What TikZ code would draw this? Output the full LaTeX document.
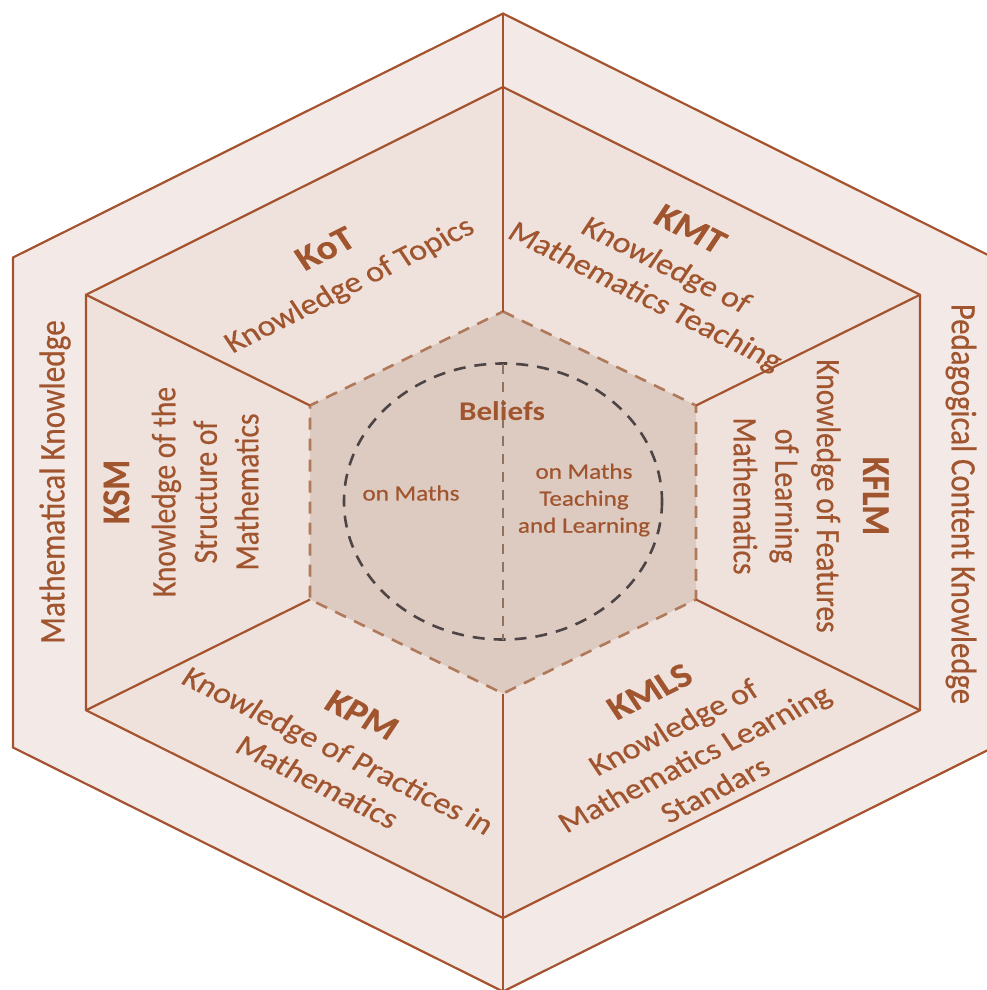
\documentclass[tikz,border=0pt]{standalone}
\usepackage{fontspec}
\setmainfont{Carlito}
\newfontfamily\heavyfam{Carlito}[FakeBold=0.5]
\definecolor{ringC}{HTML}{F3E9E6}
\definecolor{midC}{HTML}{EFE2DD}
\definecolor{centC}{HTML}{DDCAC1}
\definecolor{lineC}{HTML}{A5532E}
\definecolor{textC}{HTML}{A0552F}
\definecolor{dashC}{HTML}{B07A5A}
\definecolor{circC}{HTML}{4D4545}
\definecolor{vdashC}{HTML}{8E7262}
\newcommand{\bodyf}{\heavyfam\fontsize{29.5}{36}\selectfont}
\newcommand{\outerf}{\heavyfam\fontsize{31.3}{36}\selectfont}
\newcommand{\pckf}{\heavyfam\fontsize{30.8}{36}\selectfont}
\newcommand{\titlef}{\fontsize{34}{40}\selectfont\bfseries}
\newcommand{\innerf}{\heavyfam\fontsize{21.8}{27}\selectfont}
\begin{document}
\begin{tikzpicture}[x=1pt,y=-1pt,
  solidline/.style={draw=lineC,line width=2.2pt},
  hexdash/.style={draw=dashC,line width=2.6pt,dash pattern=on 12pt off 9pt},
  circdash/.style={draw=circC,line width=2.6pt,dash pattern=on 12pt off 9pt},
  vdash/.style={draw=vdashC,line width=2pt,dash pattern=on 10pt off 8pt},
  lab/.style={text=textC,inner sep=0pt,align=center,font=\bodyf},
  innerlab/.style={text=textC,inner sep=0pt,align=center,font=\innerf}]
\useasboundingbox (0,0) rectangle (987,990);
\clip (0,0) rectangle (987,990);
% outer hexagon
\coordinate (oT) at (503,13.5);
\coordinate (oUR) at (993,257.5);
\coordinate (oLR) at (993,747.5);
\coordinate (oB) at (503,991.5);
\coordinate (oLL) at (13,747.5);
\coordinate (oUL) at (13,257.5);
% middle hexagon
\coordinate (mT) at (503,87);
\coordinate (mUR) at (920,294.75);
\coordinate (mLR) at (920,710.25);
\coordinate (mB) at (503,918);
\coordinate (mLL) at (86,710.25);
\coordinate (mUL) at (86,294.75);
% central hexagon
\coordinate (cT) at (503,311.5);
\coordinate (cUR) at (696,405.5);
\coordinate (cLR) at (696,599.5);
\coordinate (cB) at (503,693.5);
\coordinate (cLL) at (310,599.5);
\coordinate (cUL) at (310,405.5);
% ellipse
\coordinate (eC) at (503,501.5);
\coordinate (eT) at (503,363.5);
\coordinate (eB) at (503,639.5);
% fills
\fill[ringC] (oT)--(oUR)--(oLR)--(oB)--(oLL)--(oUL)--cycle;
\fill[midC] (mT)--(mUR)--(mLR)--(mB)--(mLL)--(mUL)--cycle;
\fill[centC] (cT)--(cUR)--(cLR)--(cB)--(cLL)--(cUL)--cycle;
% outlines
\draw[solidline,line join=miter] (oT)--(oUR)--(oLR)--(oB)--(oLL)--(oUL)--cycle;
\draw[solidline,line join=miter] (mT)--(mUR)--(mLR)--(mB)--(mLL)--(mUL)--cycle;
\draw[hexdash] (cT)--(cUR)--(cLR)--(cB)--(cLL)--(cUL)--cycle;
% spokes
\draw[solidline] (oT)--(mT)--(cT);
\draw[solidline] (cB)--(mB)--(oB);
\draw[solidline] (mUL)--(cUL);
\draw[solidline] (mLL)--(cLL);
\draw[solidline] (mUR)--(cUR);
\draw[solidline] (mLR)--(cLR);
% belief circle
\draw[circdash] (eC) ellipse [x radius=159, y radius=138];
\draw[vdash] (eT)--(eB);
% labels: drawn in an unstretched frame, then widened like the hexagons
\begin{scope}[shift={(503,0)},xscale=1.1547,every node/.append style={transform shape}]
\node[lab,font=\outerf,rotate=90] (mk) at ({(55-503)/1.1547},482) {Mathematical Knowledge};
\node[lab,font=\pckf,rotate=-90] (pck) at ({(961-503)/1.1547},504) {Pedagogical Content Knowledge};
\node[lab,rotate=30] (kot) at ({(338-503)/1.1547},268) {{\titlef KoT}\\[4pt]Knowledge of Topics};
\node[lab,rotate=-30] (kmt) at ({(667-503)/1.1547},264) {{\titlef KMT}\\[4pt]Knowledge of\\Mathematics Teaching};
\node[lab,rotate=90] (ksm) at ({(181-503)/1.1547},492) {{\titlef KSM}\\[4pt]Knowledge of the\\Structure of\\Mathematics};
\node[lab,rotate=-90] (kflm) at ({(811-503)/1.1547},496) {{\titlef KFLM}\\[4pt]Knowledge of Features\\of Learning\\Mathematics};
\node[lab,rotate=-30] (kpm) at ({(340-503)/1.1547},748) {{\titlef KPM}\\[4pt]Knowledge of Practices in\\Mathematics};
\node[lab,rotate=30] (kmls) at ({(682-503)/1.1547},740) {{\titlef KMLS}\\[4pt]Knowledge of\\Mathematics Learning\\Standars};
\node[innerlab,font=\fontsize{27}{30}\selectfont\bfseries] (bel) at ({(502-503)/1.1547},411) {Beliefs};
\node[innerlab] (onm) at ({(411-503)/1.1547},493) {on Maths};
\node[innerlab] (onmt) at ({(584-503)/1.1547},500) {on Maths\\Teaching\\and Learning};
\end{scope}
\end{tikzpicture}
\end{document}
